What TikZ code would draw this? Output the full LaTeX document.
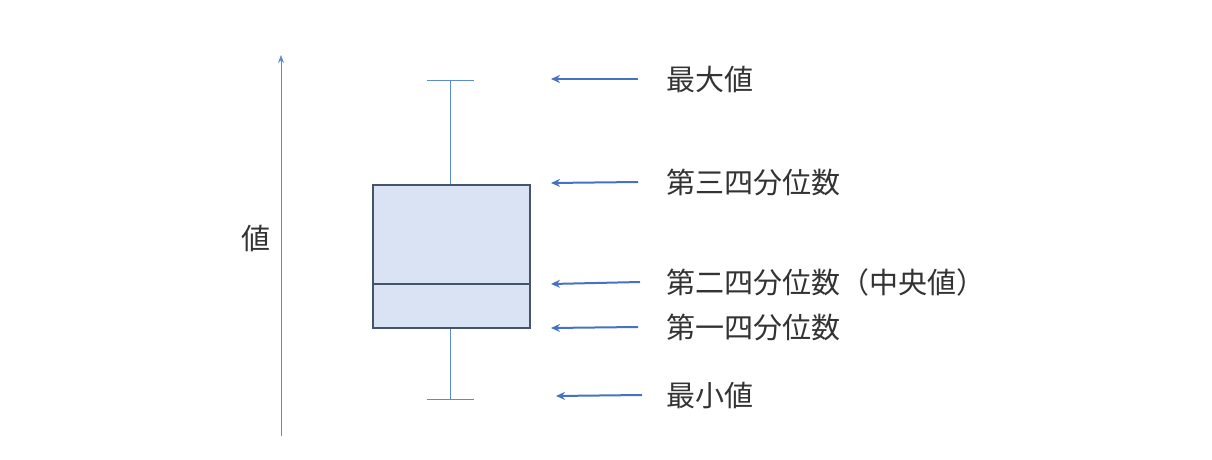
\documentclass[tikz,border=0pt]{standalone}
\usepackage{fontspec}
\usetikzlibrary{arrows.meta}
\newfontfamily\cjk{Noto Sans CJK JP}
\definecolor{boxfill}{HTML}{DAE3F3}
\definecolor{boxline}{HTML}{44546A}
\definecolor{arrowblue}{HTML}{4472C4}
\definecolor{whisker}{HTML}{5B8BD0}
\tikzset{
  lbl/.style={anchor=west,inner sep=0pt,font=\cjk\fontsize{29}{29}\selectfont,text=black!80},
  pointer/.style={-{Stealth[length=9pt,width=8pt]},line width=2pt,draw=arrowblue}
}
\begin{document}
\begin{tikzpicture}[x=1pt,y=-1pt]
  \useasboundingbox (0,0) rectangle (1212,460);
  % value axis
  \coordinate (ax0) at (281,436);
  \coordinate (ax1) at (281,55);
  \draw[-{Stealth[length=8pt,width=6pt]},whisker,line width=0.8pt] (ax0) -- (ax1);
  \node[inner sep=0pt,font=\cjk\fontsize{29}{29}\selectfont,text=black!80] (val) at (256,238) {値};
  % box and whiskers
  \draw[whisker,line width=0.8pt] (450,80) -- (450,185) (450,328) -- (450,399)
    (427,80) -- (474,80) (427,399) -- (474,399);
  \draw[boxline,fill=boxfill,line width=1.2pt] (373,185) rectangle (530,328);
  \draw[boxline,line width=1.2pt] (373,284) -- (530,284);
  % labels
  \node[lbl] (max) at (666,79) {最大値};
  \node[lbl] (q3) at (666,182) {第三四分位数};
  \node[lbl] (q2) at (666,282) {第二四分位数（中央値）};
  \node[lbl] (q1) at (666,327) {第一四分位数};
  \node[lbl] (min) at (666,395) {最小値};
  \coordinate (pmax) at (551,79);
  \coordinate (pq3) at (551,183);
  \coordinate (pq2) at (551,284);
  \coordinate (pq1) at (551,328);
  \coordinate (pmin) at (556,396);
  \draw[pointer] (max.west) ++(-28,0) -- (pmax);
  \draw[pointer] (q3.west) ++(-28,0) -- (pq3);
  \draw[pointer] (q2.west) ++(-26,0) -- (pq2);
  \draw[pointer] (q1.west) ++(-28,0) -- (pq1);
  \draw[pointer] (min.west) ++(-24,0) -- (pmin);
\end{tikzpicture}
\end{document}
